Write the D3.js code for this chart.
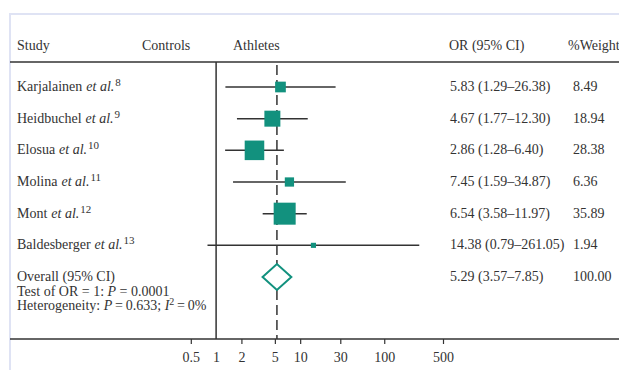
<!DOCTYPE html>
<meta charset="utf-8">
<script src="https://d3js.org/d3.v7.js"></script>
<style>
  body { margin: 0; background: #fff; }
  text { font-family: "Liberation Serif", "Times New Roman", serif; font-size: 14px; fill: #333; }
</style>
<div id="forest"></div>

<script>

var authors = ["Karjalainen", "Heidbuchel", "Elosua", "Molina", "Mont", "Baldesberger"];
var refs = [8, 9, 10, 11, 12, 13];
var or = [5.83, 4.67, 2.86, 7.45, 6.54, 14.38];
var lower = [1.29, 1.77, 1.28, 1.59, 3.58, 0.79];
var upper = [26.38, 12.30, 6.40, 34.87, 11.97, 261.05];
var weights = [8.49, 18.94, 28.38, 6.36, 35.89, 1.94];

var overall = {or: 5.29, lower: 3.57, upper: 7.85, weight: 100.00};
var tickValues = [0.5, 1, 2, 5, 10, 30, 100, 500];

var width = 619, height = 370;
var teal = "#12917e", ink = "#333";

var svg = d3.select("#forest")
  .append("svg")
    .attr("width", width)
    .attr("height", height);

// light frame round the figure
svg.append("path")
  .attr("d", "M10," + height + "V14H" + width)
  .attr("fill", "none")
  .attr("stroke", "#dfe3f4")
  .attr("stroke-width", 2);

var x = d3.scaleLog()
  .domain([0.5, 500])
  .range([190.8, 443]);

var y = d3.scaleLinear()
  .domain([0, 6])
  .range([87, 277]);

var size = d3.scaleSqrt()
  .domain([0, 35.89])
  .range([0, 22]);

var axisY = 339, headY = 62;

// header
var head = [["Study", 17], ["Controls", 142], ["Athletes", 233], ["OR (95% CI)", 449], ["%Weight", 568]];
svg.selectAll(".head")
  .data(head)
  .enter().append("text")
    .attr("class", "head")
    .attr("x", function(d) { return d[1]; })
    .attr("y", 50)
    .text(function(d) { return d[0]; });

svg.append("line")
  .attr("x1", 10).attr("x2", width)
  .attr("y1", headY).attr("y2", headY)
  .attr("stroke", ink).attr("stroke-width", 1.5);

// no-effect line and overall dashed line
svg.append("line")
  .attr("x1", x(1)).attr("x2", x(1))
  .attr("y1", headY).attr("y2", axisY)
  .attr("stroke", ink).attr("stroke-width", 1.5);

svg.append("line")
  .attr("x1", x(overall.or)).attr("x2", x(overall.or))
  .attr("y1", 65).attr("y2", axisY)
  .attr("stroke", ink).attr("stroke-width", 1.5)
  .attr("stroke-dasharray", "10,5");

// axis
var axis = svg.append("g")
  .attr("transform", "translate(0," + axisY + ")")
  .call(d3.axisBottom(x).tickValues(tickValues).tickSize(5).tickFormat(d3.format("")));
axis.select(".domain").remove();
axis.selectAll(".tick line").attr("stroke", ink).attr("stroke-width", 1.2);
axis.selectAll(".tick").filter(function(d) { return d === 1; }).select("line").remove();
axis.selectAll(".tick text")
  .attr("y", 23)
  .attr("dy", 0)
  .attr("fill", ink)
  .style("fill", ink)
  .style("font-family", "Liberation Serif, serif")
  .style("font-size", "14px");
svg.append("line")
  .attr("x1", 10).attr("x2", width)
  .attr("y1", axisY).attr("y2", axisY)
  .attr("stroke", ink).attr("stroke-width", 1.5);

// studies
var rows = authors.map(function(a, i) {
  return {author: a, ref: refs[i], or: or[i], lo: lower[i], hi: upper[i], w: weights[i], i: i};
});

var g = svg.selectAll(".study")
  .data(rows)
  .enter().append("g")
    .attr("class", "study");

g.append("line")
  .attr("x1", function(d) { return x(d.lo); })
  .attr("x2", function(d) { return x(d.hi); })
  .attr("y1", function(d) { return y(d.i); })
  .attr("y2", function(d) { return y(d.i); })
  .attr("stroke", ink).attr("stroke-width", 1.5);

g.append("rect")
  .attr("x", function(d) { return x(d.or) - size(d.w) / 2; })
  .attr("y", function(d) { return y(d.i) - size(d.w) / 2; })
  .attr("width", function(d) { return size(d.w); })
  .attr("height", function(d) { return size(d.w); })
  .attr("fill", teal);

var label = g.append("text")
  .attr("x", 17)
  .attr("y", function(d) { return y(d.i) + 4; });
label.append("tspan").text(function(d) { return d.author; });
label.append("tspan").attr("dx", 4).style("font-style", "italic").text("et al.");
label.append("tspan")
  .attr("dx", 1)
  .attr("dy", -5)
  .style("font-size", "11px")
  .text(function(d) { return d.ref; });

g.append("text")
  .attr("x", 450)
  .attr("y", function(d) { return y(d.i) + 4; })
  .text(function(d) { return d.or.toFixed(2) + " (" + d.lo.toFixed(2) + "\u2013" + d.hi.toFixed(2) + ")"; });

g.append("text")
  .attr("x", 573)
  .attr("y", function(d) { return y(d.i) + 4; })
  .text(function(d) { return d.w.toFixed(2); });

// overall
var oy = y(6);
var dh = 13;
svg.append("path")
  .attr("d", "M" + x(overall.lower) + "," + oy +
             "L" + x(overall.or) + "," + (oy - dh) +
             "L" + x(overall.upper) + "," + oy +
             "L" + x(overall.or) + "," + (oy + dh) + "Z")
  .attr("fill", "#fff")
  .attr("stroke", teal)
  .attr("stroke-width", 2);

svg.append("text").attr("x", 17).attr("y", oy + 4).text("Overall (95% CI)");

var t1 = svg.append("text").attr("x", 17).attr("y", oy + 19);
t1.append("tspan").text("Test of OR = 1: ");
t1.append("tspan").style("font-style", "italic").text("P");
t1.append("tspan").text(" = 0.0001");

var t2 = svg.append("text").attr("x", 17).attr("y", oy + 33);
t2.append("tspan").text("Heterogeneity: ");
t2.append("tspan").style("font-style", "italic").text("P");
t2.append("tspan").text("\u2009=\u20090.633; ");
t2.append("tspan").style("font-style", "italic").text("I");
t2.append("tspan").attr("dy", -5).style("font-size", "10px").text("2");
t2.append("tspan").attr("dy", 5).text("\u2009=\u20090%");

svg.append("text")
  .attr("x", 450).attr("y", oy + 4)
  .text(overall.or.toFixed(2) + " (" + overall.lower.toFixed(2) + "\u2013" + overall.upper.toFixed(2) + ")");
svg.append("text")
  .attr("x", 573).attr("y", oy + 4)
  .text(overall.weight.toFixed(2));

</script>
